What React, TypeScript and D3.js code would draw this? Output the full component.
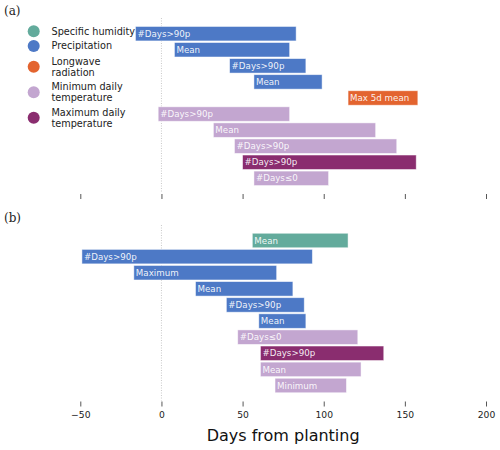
import * as d3 from 'd3';
import { useEffect, useRef } from 'react';

// legend / variable groups
const variables = ['Specific humidity', 'Precipitation', 'Longwave radiation', 'Minimum daily temperature', 'Maximum daily temperature'];
const legendLines = [['Specific humidity'], ['Precipitation'], ['Longwave', 'radiation'], ['Minimum daily', 'temperature'], ['Maximum daily', 'temperature']];
const colors = ['#63ab9c', '#4d79c6', '#e3642f', '#c3a6d0', '#8a2d6f'];

// panel (a)
const aLabels = ['#Days>90p', 'Mean', '#Days>90p', 'Mean', 'Max 5d mean', '#Days>90p', 'Mean', '#Days>90p', '#Days>90p', '#Days≤0'];
const aVars = [1, 1, 1, 1, 2, 3, 3, 3, 4, 3];
const aStart = [-16, 8, 42, 57, 115, -2, 32, 45, 50, 57];
const aEnd = [83, 79, 89, 99, 158, 79, 132, 145, 157, 103];

// panel (b)
const bLabels = ['Mean', '#Days>90p', 'Maximum', 'Mean', '#Days>90p', 'Mean', '#Days≤0', '#Days>90p', 'Mean', 'Minimum'];
const bVars = [0, 1, 1, 1, 1, 1, 3, 4, 3, 3];
const bStart = [56, -49, -17, 21, 40, 60, 47, 61, 61, 70];
const bEnd = [115, 93, 71, 81, 88, 89, 121, 137, 123, 114];

const xTicks = [-50, 0, 50, 100, 150, 200];

export default function App() {
    const ref = useRef<SVGSVGElement | null>(null);

    useEffect(() => {
        const svg = d3.select(ref.current);
        svg.selectAll('*').remove();

        const width = 500;
        const height = 450;
        svg.attr('width', width).attr('height', height);

        const font = 'DejaVu Sans, sans-serif';

        const x = d3.scaleLinear().domain([-50, 200]).range([80.3, 486]);

        const drawPanel = (
            labels: string[], vars: number[], starts: number[], ends: number[],
            yRange: [number, number], lineTop: number, axisY: number, showLabels: boolean, tag: string, tagY: number,
        ) => {
            const y = d3.scaleBand<number>()
                .domain(d3.range(labels.length))
                .range(yRange)
                .paddingInner(0.1)
                .paddingOuter(0.05);

            const g = svg.append('g');

            g.append('text')
                .attr('x', 4)
                .attr('y', tagY)
                .attr('font-family', 'DejaVu Serif, serif')
                .attr('font-size', 12)
                .attr('fill', '#222')
                .text(tag);

            g.append('line')
                .attr('x1', x(0)).attr('x2', x(0))
                .attr('y1', lineTop).attr('y2', axisY - 1)
                .attr('stroke', '#bbb')
                .attr('stroke-width', 0.8)
                .attr('stroke-dasharray', '1,1.5');

            const rows = g.selectAll('g.row')
                .data(labels.map((l, i) => ({ l, v: vars[i], s: starts[i], e: ends[i], i })))
                .join('g')
                .attr('class', 'row');

            rows.append('rect')
                .attr('x', d => x(d.s))
                .attr('y', d => y(d.i)!)
                .attr('width', d => x(d.e) - x(d.s))
                .attr('height', y.bandwidth())
                .attr('fill', d => colors[d.v])
                .attr('stroke', 'rgba(255,255,255,0.6)')
                .attr('stroke-width', 0.8);

            rows.append('text')
                .attr('x', d => x(d.s) + 2)
                .attr('y', d => y(d.i)! + y.bandwidth() / 2)
                .attr('dy', '0.36em')
                .attr('font-family', font)
                .attr('font-size', 8.7)
                .attr('fill', 'white')
                .attr('fill-opacity', 0.92)
                .text(d => d.l);

            const axis = g.append('g')
                .attr('transform', `translate(0,${axisY})`)
                .call(d3.axisBottom(x).tickValues(xTicks).tickSize(5).tickPadding(5)
                    .tickFormat(showLabels ? (d => d3.format('')(d as number).replace('-', '−')) : () => ''));
            axis.select('.domain').remove();
            axis.selectAll('line').attr('stroke', '#444').attr('stroke-width', 0.9);
            axis.selectAll('text').attr('font-family', font).attr('font-size', 9.2).attr('fill', '#222');
        };

        drawPanel(aLabels, aVars, aStart, aEnd, [25.66, 186.36], 18, 194, false, '(a)', 14.5);
        drawPanel(bLabels, bVars, bStart, bEnd, [232.45, 393.55], 225, 401.5, true, '(b)', 222);

        svg.append('text')
            .attr('x', (x(-50) + x(200)) / 2)
            .attr('y', 441)
            .attr('text-anchor', 'middle')
            .attr('font-family', font)
            .attr('font-size', 16)
            .attr('fill', '#111')
            .text('Days from planting');

        // legend
        const legendY = [31.3, 46, 66.7, 92.3, 117.7];
        const legend = svg.append('g');
        variables.forEach((v, i) => {
            legend.append('circle')
                .attr('cx', 33.7)
                .attr('cy', legendY[i])
                .attr('r', 6)
                .attr('fill', colors[i]);
            const lines = legendLines[i];
            lines.forEach((ln, j) => {
                legend.append('text')
                    .attr('x', 51.5)
                    .attr('y', legendY[i] + (j - (lines.length - 1) / 2) * 10.8)
                    .attr('dy', '0.36em')
                    .attr('font-family', font)
                    .attr('font-size', 9.7)
                    .attr('fill', '#222')
                    .text(ln);
            });
        });
    }, []);

    return <svg ref={ref} style={{ position: 'absolute', left: 0, top: 0 }}></svg>;
}
